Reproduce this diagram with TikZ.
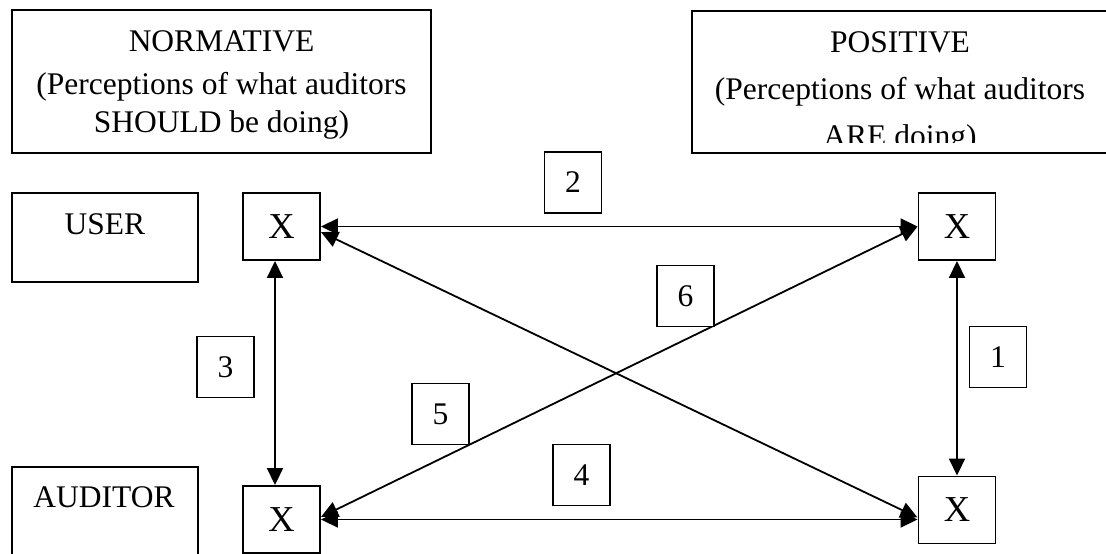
\documentclass[tikz,border=0pt]{standalone}
\usepackage{fontspec}
\setmainfont{Liberation Serif}
\usetikzlibrary{arrows.meta,calc}

\tikzset{
  frame/.style={draw, line width=1.9pt},
  xbox/.style={draw, line width=1.9pt, minimum width=77pt, minimum height=67pt,
    inner sep=0pt, font=\fontsize{36.5}{40}\selectfont},
  numbox/.style={draw, line width=1.6pt, fill=white, minimum width=57pt,
    minimum height=61pt, inner sep=0pt},
  txt/.style={anchor=base, inner sep=0pt},
  link/.style={line width=1.8pt, {Triangle[length=17pt,width=16pt]}-{Triangle[length=17pt,width=16pt]}}
}

\begin{document}
\begin{tikzpicture}[x=1pt, y=-1pt, font=\fontsize{31.5}{36}\selectfont]
\useasboundingbox (0,0) rectangle (1106,554);

% heading boxes
\draw[frame] (12,10) rectangle (431,153);
\node[txt] (nt1) at (221.5,51.7) {NORMATIVE};
\node[txt] (nt2) at (221.5,94.5) {(Perceptions of what auditors};
\node[txt] (nt3) at (221.5,132.7) {SHOULD be doing)};

\draw[frame] (692,11) rectangle (1109,153);
\node[txt] (pt1) at (900,52.7) {POSITIVE};
\node[txt] (pt2) at (900,99.3) {(Perceptions of what auditors};
\begin{scope}
  \clip (692,11) rectangle (1109,142);
  \node[txt] (pt3) at (900,146.5) {ARE doing)};
\end{scope}

% row headings
\draw[frame] (12,193) rectangle (198,282);
\node[txt] (user) at (105,234) {USER};
\draw[frame] (12,467) rectangle (198,600);
\node[txt] (auditor) at (104,507.7) {AUDITOR};

% the four cells
\node[xbox] (xun) at (281.5,226.5) {X};
\node[xbox] (xup) at (957,226.5) {X};
\node[xbox] (xan) at (281.5,519.5) {X};
\node[xbox] (xap) at (957,510) {X};

% connectors
\draw[link] (xun.east) -- (xup.west);
\draw[link] (xan.east) -- (xap.west |- xan.east);
\draw[link] ($(xun.south)+(-6.5,0)$) -- ($(xan.north)+(-6.5,0)$);
\draw[link] (xup.south) -- (xap.north);
\draw[link] ($(xun.east)+(0,5.5)$) -- ($(xap.west)+(0,7.5)$);
\draw[link] ($(xan.east)+(0,-2.5)$) -- (xup.west);

% numbered labels
\node[numbox] (n1) at (998,357) {1};
\node[numbox] (n2) at (573,182.5) {2};
\node[numbox] (n3) at (225.5,367) {3};
\node[numbox] (n4) at (581.5,475) {4};
\node[numbox] (n5) at (440.5,414) {5};
\node[numbox] (n6) at (685.5,296) {6};
\end{tikzpicture}
\end{document}
